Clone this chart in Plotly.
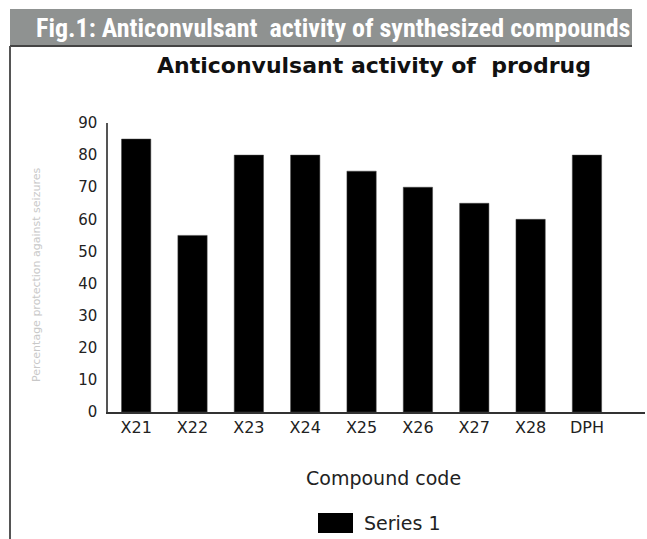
import plotly.graph_objects as go

categories = ["X21", "X22", "X23", "X24", "X25", "X26", "X27", "X28", "DPH"]
series1 = [85, 55, 80, 80, 75, 70, 65, 60, 80]
y_ticks = [0, 10, 20, 30, 40, 50, 60, 70, 80, 90]

W, H = 647, 539
L, R, T, B = 108, 2, 123, 127
pw, ph = W - L - R, H - T - B

def px(x):
    return (x - L) / pw

def py(y):
    return (H - B - y) / ph

font_main = "DejaVu Sans, Verdana, sans-serif"

fig = go.Figure()
fig.add_trace(go.Bar(
    x=categories, y=series1, name="Series 1",
    marker=dict(color="black", line=dict(color="#444", width=0.5)),
    width=0.52,
))

fig.update_layout(
    width=W, height=H, autosize=False,
    margin=dict(l=L, r=R, t=T, b=B, autoexpand=False),
    paper_bgcolor="white", plot_bgcolor="white",
    font=dict(family=font_main, color="#111", size=16),
    showlegend=False,
    xaxis=dict(range=[-0.5, 9.03], showline=True, linecolor="#333", linewidth=1.5,
               ticks="", showgrid=False, zeroline=False, automargin=False,
               tickfont=dict(family=font_main, size=16, color="#222")),
    yaxis=dict(range=[0, 90], tickvals=y_ticks, ticktext=[str(v) for v in y_ticks],
               showline=True, linecolor="#555", linewidth=1.5, ticks="", automargin=False,
               showgrid=False, zeroline=False, ticklabelstandoff=6,
               tickfont=dict(family=font_main, size=15, color="#222")),
    shapes=[
        dict(type="rect", xref="paper", yref="paper", x0=px(10), x1=px(632), y0=py(46), y1=py(9),
             fillcolor="#8f9291", line=dict(width=0), layer="below"),
        dict(type="line", xref="paper", yref="paper", x0=px(10), x1=px(632), y0=py(46), y1=py(46),
             line=dict(color="#444", width=2)),
        dict(type="line", xref="paper", yref="paper", x0=px(10), x1=px(10), y0=py(46), y1=py(539),
             line=dict(color="#555", width=2)),
        # legend swatch
        dict(type="rect", xref="paper", yref="paper", x0=px(318), x1=px(353), y0=py(533), y1=py(513),
             fillcolor="black", line=dict(width=0)),
    ],
    annotations=[
        dict(text="<b>Fig.1: Anticonvulsant  activity of synthesized compounds</b>",
             xref="paper", yref="paper", x=px(333), y=py(28), showarrow=False,
             xanchor="center", yanchor="middle",
             font=dict(family="Liberation Sans Narrow, Arial Narrow, Roboto Condensed, sans-serif",
                       size=26, color="white")),
        dict(text="<b>Anticonvulsant activity of  prodrug</b>",
             xref="paper", yref="paper", x=px(374), y=py(65), showarrow=False,
             xanchor="center", yanchor="middle",
             font=dict(family=font_main, size=22, color="#111")),
        dict(text="Compound code", xref="paper", yref="paper", x=px(383), y=py(478),
             showarrow=False, xanchor="center", yanchor="middle",
             font=dict(family=font_main, size=19, color="#222")),
        dict(text="Series 1", xref="paper", yref="paper", x=px(362), y=py(523),
             showarrow=False, xanchor="left", yanchor="middle",
             font=dict(family=font_main, size=19, color="#222")),
        dict(text="Percentage protection against seizures", xref="paper", yref="paper",
             x=px(36), y=py(275), showarrow=False, textangle=-90,
             xanchor="center", yanchor="middle",
             font=dict(family=font_main, size=11, color="#c8c8c8")),
    ],
)

fig.write_html("out.html", config={"displayModeBar": False},
               post_script="document.body.style.margin='0px';")
